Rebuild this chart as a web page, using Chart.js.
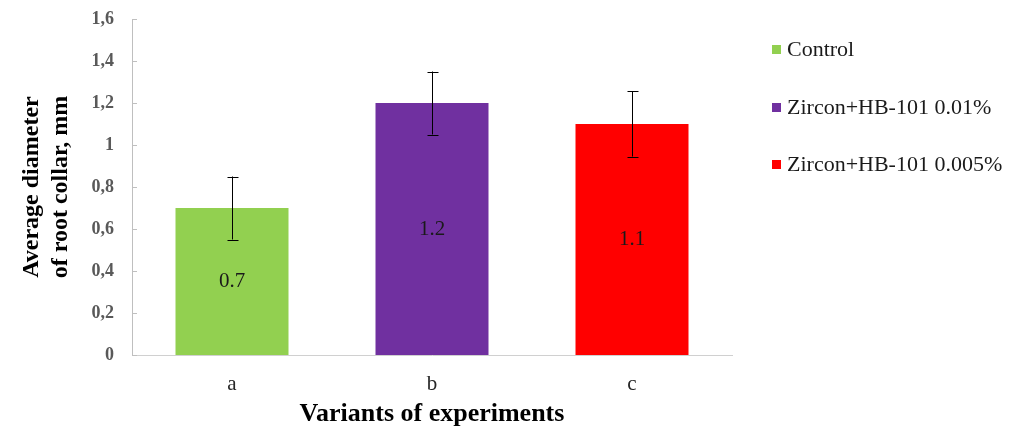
<!DOCTYPE html>
<html>
<head>
<meta charset="utf-8">
<script src="https://cdn.jsdelivr.net/npm/chart.js@4.4.1/dist/chart.umd.min.js"></script>
<style>
  html, body { margin: 0; padding: 0; background: #ffffff; }
  #wrap { width: 1023px; height: 439px; position: relative; }
</style>
</head>
<body>
<div id="wrap"><canvas id="chart"></canvas></div>
<script>
// ================================
// DATA
// ================================
var categories = ["a", "b", "c"];
var seriesNames = ["Control", "Zircon+HB-101 0.01%", "Zircon+HB-101 0.005%"];
var meanValues = [0.7, 1.2, 1.1];
var errorValues = [0.15, 0.15, 0.155];
var valueLabels = ["0.7", "1.2", "1.1"];
var yTickLabels = ["0", "0,2", "0,4", "0,6", "0,8", "1", "1,2", "1,4", "1,6"];

var barColors = ["#92d050", "#7030a0", "#ff0000"];
var serif = "'Liberation Serif', 'Times New Roman', serif";

// ================================
// PLUGIN: error bars, value labels, inner y ticks, legend
// ================================
var extras = {
  id: "extras",
  afterDatasetsDraw: function (chart) {
    var ctx = chart.ctx;
    var yScale = chart.scales.y;
    var bars = chart.getDatasetMeta(0).data;

    ctx.save();
    // error bars
    ctx.strokeStyle = "#000000";
    ctx.lineWidth = 1;
    bars.forEach(function (bar, i) {
      var top = yScale.getPixelForValue(meanValues[i] + errorValues[i]);
      var bot = yScale.getPixelForValue(meanValues[i] - errorValues[i]);
      var x = Math.round(bar.x) + 0.5;
      ctx.beginPath();
      ctx.moveTo(x, top); ctx.lineTo(x, bot);
      ctx.moveTo(x - 5, Math.round(top) + 0.5); ctx.lineTo(x + 6, Math.round(top) + 0.5);
      ctx.moveTo(x - 5, Math.round(bot) + 0.5); ctx.lineTo(x + 6, Math.round(bot) + 0.5);
      ctx.stroke();
    });

    // value labels in the middle of each bar
    ctx.fillStyle = "#1a1a1a";
    ctx.font = "21px " + serif;
    ctx.textAlign = "center";
    ctx.textBaseline = "middle";
    bars.forEach(function (bar, i) {
      ctx.fillText(valueLabels[i], bar.x, (bar.y + bar.base) / 2);
    });

    // short tick marks on the inside of the y axis
    ctx.strokeStyle = "#bfbfbf";
    yScale.ticks.forEach(function (t) {
      var y = Math.round(yScale.getPixelForValue(t.value)) + 0.5;
      ctx.beginPath();
      ctx.moveTo(chart.chartArea.left, y);
      ctx.lineTo(chart.chartArea.left + 5, y);
      ctx.stroke();
    });
    ctx.restore();
  },
  afterDraw: function (chart) {
    var ctx = chart.ctx;
    var itemY = [49, 107, 164];
    ctx.save();
    ctx.font = "22px " + serif;
    ctx.textAlign = "left";
    ctx.textBaseline = "middle";
    seriesNames.forEach(function (name, i) {
      ctx.fillStyle = barColors[i];
      ctx.fillRect(772, itemY[i] - 4, 9, 9);
      ctx.fillStyle = "#1a1a1a";
      ctx.fillText(name, 787, itemY[i] + 1);
    });
    ctx.restore();
  }
};

// ================================
// CHART
// ================================
var ctx = document.getElementById("chart").getContext("2d");

var chartData = {
  labels: categories,
  datasets: [
    {
      label: "Average diameter",
      data: meanValues,
      backgroundColor: barColors,
      borderWidth: 0,
      categoryPercentage: 1,
      barPercentage: 0.565
    }
  ]
};

var chartOptions = {
  responsive: true,
  maintainAspectRatio: false,
  animation: false,
  layout: {
    padding: { left: 0, top: 19, right: 291, bottom: 0 }
  },
  plugins: {
    legend: { display: false },
    tooltip: { enabled: false }
  },
  scales: {
    x: {
      grid: { display: false, drawTicks: false },
      border: { display: true, color: "#d0d0d0", width: 1 },
      ticks: {
        color: "#262626",
        font: { family: serif, size: 21 },
        padding: 17
      },
      title: {
        display: true,
        text: "Variants of experiments",
        color: "#000000",
        font: { family: serif, size: 26, weight: "bold", lineHeight: 1.2 },
        padding: { top: 0, bottom: 9 }
      },
      afterFit: function (scale) {
        scale.height = 84;
        scale.paddingLeft = 0;
        scale.paddingRight = 0;
      }
    },
    y: {
      min: 0,
      max: 1.6,
      grid: { display: false, drawTicks: false },
      border: { display: true, color: "#bfbfbf", width: 1 },
      ticks: {
        stepSize: 0.2,
        color: "#595959",
        font: { family: serif, size: 18, weight: "bold" },
        padding: 18,
        callback: function (value, index) { return yTickLabels[index]; }
      },
      title: {
        display: true,
        text: ["Average diameter", "of root collar, mm"],
        color: "#000000",
        font: { family: serif, size: 24, weight: "bold", lineHeight: 1.22 },
        padding: { top: 17, bottom: 0 }
      },
      afterFit: function (scale) {
        scale.width = 132;
        scale.paddingTop = 0;
        scale.paddingBottom = 0;
      }
    }
  }
};

var myChart = new Chart(ctx, {
  type: "bar",
  data: chartData,
  options: chartOptions,
  plugins: [extras]
});
</script>
</body>
</html>
